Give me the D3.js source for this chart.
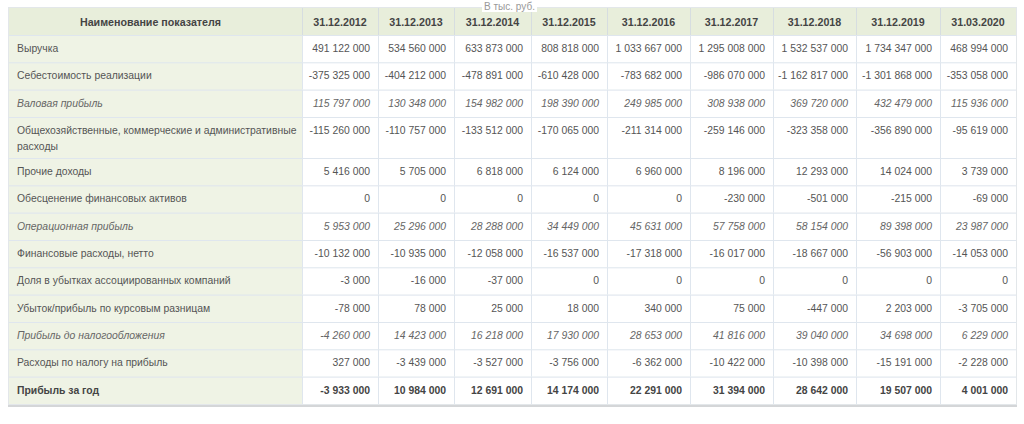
<!DOCTYPE html>
<html>
<head>
<meta charset="utf-8">
<script src="https://cdn.jsdelivr.net/npm/d3@7"></script>
<style>
  body { margin: 0; background: #fff; }
  svg { display: block; font-family: "Liberation Sans", Arial, sans-serif; }
</style>
</head>
<body>
<div id="table"></div>
<script>
// column headers
const dates = ["31.12.2012", "31.12.2013", "31.12.2014", "31.12.2015", "31.12.2016",
  "31.12.2017", "31.12.2018", "31.12.2019", "31.03.2020"];

const revenue = [491122000, 534560000, 633873000, 808818000, 1033667000, 1295008000, 1532537000, 1734347000, 468994000];
const costOfSales = [-375325000, -404212000, -478891000, -610428000, -783682000, -986070000, -1162817000, -1301868000, -353058000];
const grossProfit = [115797000, 130348000, 154982000, 198390000, 249985000, 308938000, 369720000, 432479000, 115936000];
const sgaExpenses = [-115260000, -110757000, -133512000, -170065000, -211314000, -259146000, -323358000, -356890000, -95619000];
const otherIncome = [5416000, 5705000, 6818000, 6124000, 6960000, 8196000, 12293000, 14024000, 3739000];
const impairment = [0, 0, 0, 0, 0, -230000, -501000, -215000, -69000];
const operatingProfit = [5953000, 25296000, 28288000, 34449000, 45631000, 57758000, 58154000, 89398000, 23987000];
const financeCosts = [-10132000, -10935000, -12058000, -16537000, -17318000, -16017000, -18667000, -56903000, -14053000];
const associatesLoss = [-3000, -16000, -37000, 0, 0, 0, 0, 0, 0];
const fxGainLoss = [-78000, 78000, 25000, 18000, 340000, 75000, -447000, 2203000, -3705000];
const profitBeforeTax = [-4260000, 14423000, 16218000, 17930000, 28653000, 41816000, 39040000, 34698000, 6229000];
const incomeTax = [327000, -3439000, -3527000, -3756000, -6362000, -10422000, -10398000, -15191000, -2228000];
const netProfit = [-3933000, 10984000, 12691000, 14174000, 22291000, 31394000, 28642000, 19507000, 4001000];

const rowLabels = [
  "Выручка",
  "Себестоимость реализации",
  "Валовая прибыль",
  "Общехозяйственные, коммерческие и административные расходы",
  "Прочие доходы",
  "Обесценение финансовых активов",
  "Операционная прибыль",
  "Финансовые расходы, нетто",
  "Доля в убытках ассоциированных компаний",
  "Убыток/прибыль по курсовым разницам",
  "Прибыль до налогообложения",
  "Расходы по налогу на прибыль",
  "Прибыль за год"
];
const rowValues = [revenue, costOfSales, grossProfit, sgaExpenses, otherIncome, impairment,
  operatingProfit, financeCosts, associatesLoss, fxGainLoss, profitBeforeTax, incomeTax, netProfit];
// subtotal rows are shown in italics, the final row in bold
const subtotalRows = [2, 6, 10];
const totalRow = 12;

const headerTitle = "Наименование показателя";
const unitNote = "В тыс. руб.";

// layout
const width = 1024, height = 424;
const tableTop = 8, tableLeft = 9;
const headerHeight = 27;
const rowHeight = 27.33;
const lineHeight = 16;
const colWidths = [293, 76, 76, 77, 76, 83, 83, 83, 84, 76];
const padX = 8;
const fontSize = 10.4;

const colX = [tableLeft];
colWidths.forEach((w, i) => colX.push(colX[i] + w));
const tableRight = colX[colX.length - 1];

const locale = d3.formatLocale({ decimal: ",", thousands: " ", grouping: [3], currency: ["", ""], minus: "-" });
const fmt = locale.format(",d");

const svg = d3.select("#table").append("svg")
  .attr("width", width)
  .attr("height", height);

// measure helper for wrapping labels
const measure = svg.append("text").attr("font-size", fontSize).attr("visibility", "hidden");
function wrapText(str, maxW, style) {
  measure.attr("font-style", style.italic ? "italic" : "normal")
    .attr("font-weight", style.bold ? "bold" : "normal");
  const words = str.split(" ");
  const lines = [];
  let cur = "";
  words.forEach(w => {
    const test = cur ? cur + " " + w : w;
    measure.text(test);
    if (measure.node().getComputedTextLength() > maxW && cur) {
      lines.push(cur);
      cur = w;
    } else {
      cur = test;
    }
  });
  if (cur) lines.push(cur);
  return lines;
}

const rows = rowLabels.map((label, i) => {
  const style = { italic: subtotalRows.includes(i), bold: i === totalRow };
  const lines = wrapText(label, colWidths[0] - padX - 2, style);
  return { label, lines, values: rowValues[i], style };
});

let yCursor = tableTop + headerHeight;
rows.forEach(r => {
  r.y = yCursor;
  r.h = r.lines.length > 1 ? rowHeight + (r.lines.length - 1) * lineHeight - 2.3 : rowHeight;
  yCursor += r.h;
});
const tableBottom = yCursor;

// shadow under table
svg.append("rect")
  .attr("x", tableLeft - 1).attr("y", tableBottom)
  .attr("width", tableRight - tableLeft + 2).attr("height", 3)
  .attr("fill", "#d4d6d8");
svg.append("rect")
  .attr("x", tableLeft - 1).attr("y", tableTop - 1)
  .attr("width", tableRight - tableLeft + 2).attr("height", tableBottom - tableTop + 2)
  .attr("fill", "#e3e7ea");

// header
const header = svg.append("g");
header.append("rect")
  .attr("x", tableLeft).attr("y", tableTop)
  .attr("width", tableRight - tableLeft).attr("height", headerHeight)
  .attr("fill", "#e8eedb");
header.selectAll("line.hsep")
  .data(colX.slice(1, -1))
  .join("line")
  .attr("class", "hsep")
  .attr("x1", d => d + 0.5).attr("x2", d => d + 0.5)
  .attr("y1", tableTop).attr("y2", tableTop + headerHeight)
  .attr("stroke", "#d6dde0");
header.selectAll("text")
  .data([headerTitle].concat(dates))
  .join("text")
  .attr("x", (d, i) => i === 0 ? colX[0] + colWidths[0] / 2 - 5 : colX[i] + colWidths[i] / 2)
  .attr("y", tableTop + headerHeight / 2 + 1)
  .attr("dy", "0.35em")
  .attr("text-anchor", "middle")
  .attr("font-size", fontSize + 0.3)
  .attr("font-weight", "bold")
  .attr("fill", "#444")
  .text(d => d);

// body rows
const body = svg.append("g");
const rowG = body.selectAll("g.row")
  .data(rows)
  .join("g")
  .attr("class", "row")
  .attr("transform", d => `translate(0,${d.y})`);

rowG.append("rect")
  .attr("x", tableLeft).attr("y", 0)
  .attr("width", colWidths[0]).attr("height", d => d.h)
  .attr("fill", "#eff3e5");
rowG.append("rect")
  .attr("x", colX[1]).attr("y", 0)
  .attr("width", tableRight - colX[1]).attr("height", d => d.h)
  .attr("fill", "#fff");

// horizontal grid lines
rowG.append("line")
  .attr("x1", tableLeft).attr("x2", tableRight)
  .attr("y1", 0.5).attr("y2", 0.5)
  .attr("stroke", "#dfe6ee");

// vertical grid lines
rowG.selectAll("line.vsep")
  .data(d => colX.slice(1, -1).map(x => ({ x, h: d.h })))
  .join("line")
  .attr("class", "vsep")
  .attr("x1", d => d.x + 0.5).attr("x2", d => d.x + 0.5)
  .attr("y1", 0).attr("y2", d => d.h)
  .attr("stroke", "#dfe6ee");

function textColor(s) {
  return s.bold ? "#444" : (s.italic ? "#666" : "#555");
}

// labels
rowG.append("text")
  .attr("font-size", fontSize)
  .attr("font-style", d => d.style.italic ? "italic" : "normal")
  .attr("font-weight", d => d.style.bold ? "bold" : "normal")
  .attr("fill", d => textColor(d.style))
  .selectAll("tspan")
  .data(d => d.lines)
  .join("tspan")
  .attr("x", tableLeft + padX)
  .attr("y", (d, i) => 13.5 + i * lineHeight)
  .attr("dy", "0.35em")
  .text(d => d);

// values
rowG.selectAll("text.val")
  .data(d => d.values.map((v, j) => ({ v, j, style: d.style })))
  .join("text")
  .attr("class", "val")
  .attr("x", d => colX[d.j + 2] - padX)
  .attr("y", 13.5)
  .attr("dy", "0.35em")
  .attr("text-anchor", "end")
  .attr("font-size", fontSize)
  .attr("font-style", d => d.style.italic ? "italic" : "normal")
  .attr("font-weight", d => d.style.bold ? "bold" : "normal")
  .attr("fill", d => textColor(d.style))
  .text(d => fmt(d.v));

// unit note on top of the header
const noteG = svg.append("g");
noteG.append("rect")
  .attr("x", 482).attr("y", 0)
  .attr("width", 55).attr("height", 12)
  .attr("fill", "#fff");
noteG.append("text")
  .attr("x", 509.5).attr("y", 6)
  .attr("dy", "0.35em")
  .attr("text-anchor", "middle")
  .attr("font-size", 10)
  .attr("fill", "#999")
  .text(unitNote);

measure.remove();
</script>
</body>
</html>
